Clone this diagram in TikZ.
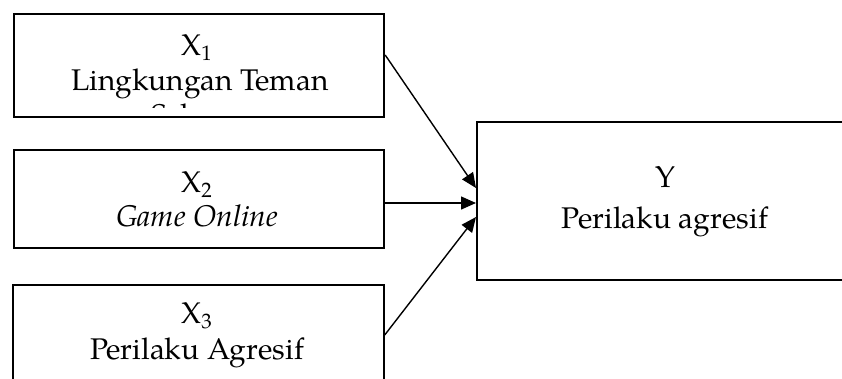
\documentclass[tikz,border=0pt]{standalone}
\usepackage{fontspec}
\setmainfont{TeX Gyre Pagella}
\usetikzlibrary{arrows.meta,calc}
\begin{document}
\begin{tikzpicture}[x=1bp,y=-1bp,
  box/.style={draw,line width=2.2bp,rectangle,inner sep=0pt,anchor=north west},
  lbl/.style={font=\fontsize{30}{36}\selectfont,inner sep=0pt,anchor=base},
  arr/.style={line width=1.4bp,-{Triangle[length=15bp,width=13bp]}}]
\useasboundingbox (0,0) rectangle (842,378);
\clip (0,0) rectangle (842,378);
% boxes
\node[box,minimum width=370.5bp,minimum height=103bp] (b1) at (12.5,13) {};
\node[box,minimum width=370.5bp,minimum height=98bp] (b2) at (12.5,149) {};
\node[box,minimum width=371bp,minimum height=120bp] (b3) at (11.5,284) {};
\node[box,minimum width=378bp,minimum height=158bp] (yb) at (476,121) {};
% texts
\node[lbl] (x1) at (197,55) {X\textsubscript{1}};
\node[lbl] (t1) at (200,90) {Lingkungan Teman};
\begin{scope}
  \clip (12.5,13) rectangle (383,107.5);
  \node[lbl] (t1b) at (197,125) {Sebaya};
\end{scope}
\node[lbl] (x2) at (197,192) {X\textsubscript{2}};
\node[lbl] (t2) at (197,226) {\itshape Game Online};
\node[lbl] (x3) at (197,323) {X\textsubscript{3}};
\node[lbl] (t3) at (197,359) {Perilaku Agresif};
\node[lbl] (yl) at (665,187) {Y};
\node[lbl] (yt) at (665,228) {Perilaku agresif};
% arrows
\draw[arr] ($(b1.north east)+(0,42)$) -- ($(yb.north west)+(0,67)$);
\draw[arr] ($(b2.north east)+(0,54)$) -- ($(yb.north west)+(0,82)$);
\draw[arr] ($(b3.north east)+(0,51)$) -- ($(yb.north west)+(0,96)$);
\end{tikzpicture}
\end{document}
